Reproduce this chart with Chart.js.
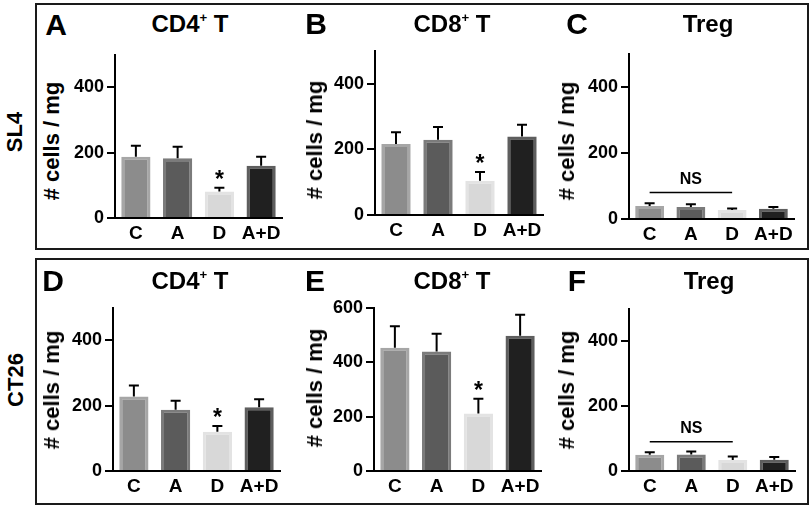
<!DOCTYPE html>
<html>
<head>
<meta charset="utf-8">
<script src="https://cdn.jsdelivr.net/npm/chart.js@4.4.0/dist/chart.umd.min.js"></script>
<style>
  html, body { margin: 0; padding: 0; background: #fff; }
  #fig { position: relative; width: 812px; height: 505px; overflow: hidden;
         font-family: Arial, "Liberation Sans", sans-serif; font-weight: bold; color: #000; }
  .box { position: absolute; border: 2px solid #1a1a1a; box-sizing: border-box; }
  .t { position: absolute; white-space: nowrap; line-height: 1; transform: translate(-50%, -50%); }
  .rot { transform: translate(-50%, -50%) rotate(-90deg); }
  .t sup { font-size: 0.55em; vertical-align: 0.75em; line-height: 0; }
  canvas { position: absolute; }
</style>
</head>
<body>
<div id="fig"></div>
<script>
// ── data ────────────────────────────────────────────────────────────
var categories = ['C', 'A', 'D', 'A+D'];

var sl4Cd4     = [188, 183, 81, 160];
var sl4Cd4Err  = [33, 35, 12, 28];
var sl4Cd8     = [216, 229, 104, 239];
var sl4Cd8Err  = [36, 39, 27, 36];
var sl4Treg    = [39, 36, 27, 31];
var sl4TregErr = [9, 9, 5, 5];

var ct26Cd4     = [228, 188, 120, 195];
var ct26Cd4Err  = [34, 27, 18, 25];
var ct26Cd8     = [453, 439, 211, 497];
var ct26Cd8Err  = [79, 66, 55, 77];
var ct26Treg    = [50, 51, 34, 35];
var ct26TregErr = [8, 9, 11, 8];

var yTicks = [0, 200, 400, 600];

(function () {
  'use strict';
  var FONT = 'Arial, "Liberation Sans", sans-serif';
  var fig = document.getElementById('fig');
  var barFill = ['#8c8c8c', '#5b5b5b', '#d8d8d8', '#202020'];
  var barEdge = ['#a6a6a6', '#7b7b7b', '#e3e3e3', '#5e5e5e'];

  // panel layout: chart area box in page px + text anchors
  var panels = [
    { letter: 'A', title: 'CD4<sup>+</sup> T', v: sl4Cd4, e: sl4Cd4Err, max: 500, star: 2,
      box: [115, 282, 53, 218], L: [56, 25], T: [190, 24], Y: [52, 141] },
    { letter: 'B', title: 'CD8<sup>+</sup> T', v: sl4Cd8, e: sl4Cd8Err, max: 500, star: 2,
      box: [375, 543, 49, 215], L: [316, 24], T: [452, 24], Y: [315, 140] },
    { letter: 'C', title: 'Treg', v: sl4Treg, e: sl4TregErr, max: 500, ns: 80,
      box: [629, 794, 52, 219], L: [577, 24], T: [708, 24], Y: [567, 141] },
    { letter: 'D', title: 'CD4<sup>+</sup> T', v: ct26Cd4, e: ct26Cd4Err, max: 500, star: 2,
      box: [113, 280, 306, 471], L: [53, 281], T: [190, 281], Y: [52, 390] },
    { letter: 'E', title: 'CD8<sup>+</sup> T', v: ct26Cd8, e: ct26Cd8Err, max: 600, star: 2,
      box: [374, 541, 306, 471], L: [315, 281], T: [452, 281], Y: [315, 388] },
    { letter: 'F', title: 'Treg', v: ct26Treg, e: ct26TregErr, max: 500, ns: 90,
      box: [629, 795, 307, 471], L: [577, 281], T: [709, 281], Y: [567, 390] }
  ];

  function el(cls, html, x, y, size) {
    var d = document.createElement('div');
    d.className = cls; d.innerHTML = html;
    d.style.left = x + 'px'; d.style.top = y + 'px'; d.style.fontSize = size + 'px';
    fig.appendChild(d);
    return d;
  }
  function box(l, t, r, b) {
    var d = document.createElement('div');
    d.className = 'box';
    d.style.left = l + 'px'; d.style.top = t + 'px';
    d.style.width = (r - l) + 'px'; d.style.height = (b - t) + 'px';
    fig.appendChild(d);
  }

  // error bars, star, NS bracket
  var marks = {
    id: 'marks',
    afterDatasetsDraw: function (chart, args, o) {
      var ctx = chart.ctx, y = chart.scales.y, bars = chart.getDatasetMeta(0).data;
      ctx.save();
      ctx.strokeStyle = '#000'; ctx.fillStyle = '#000'; ctx.lineWidth = 2;
      bars.forEach(function (b, i) {
        var cap = y.getPixelForValue(o.v[i] + o.e[i]);
        ctx.beginPath();
        ctx.moveTo(b.x, b.y); ctx.lineTo(b.x, cap);
        ctx.moveTo(b.x - 5, cap); ctx.lineTo(b.x + 5, cap);
        ctx.stroke();
        if (o.star === i) {
          ctx.font = 'bold 23px ' + FONT;
          ctx.textAlign = 'center'; ctx.textBaseline = 'alphabetic';
          ctx.fillText('*', b.x, cap - 1);
        }
      });
      if (o.ns != null) {
        var ly = y.getPixelForValue(o.ns), x0 = bars[0].x, x1 = bars[2].x;
        ctx.lineWidth = 1.5;
        ctx.beginPath(); ctx.moveTo(x0, ly); ctx.lineTo(x1, ly); ctx.stroke();
        ctx.font = 'bold 16px ' + FONT;
        ctx.textAlign = 'center'; ctx.textBaseline = 'alphabetic';
        ctx.fillText('NS', (x0 + x1) / 2, ly - 9);
      }
      ctx.restore();
    }
  };

  function makePanel(p) {
    var yW = 50, xH = 30, padT = 12, padR = 14;
    var l = p.box[0], r = p.box[1], t = p.box[2], b = p.box[3];
    var w = yW + (r - l) + padR, h = padT + (b - t) + xH;
    var cv = document.createElement('canvas');
    cv.width = w; cv.height = h;
    cv.style.width = w + 'px'; cv.style.height = h + 'px';
    cv.style.left = (l - yW) + 'px'; cv.style.top = (t - padT) + 'px';
    fig.appendChild(cv);

    new Chart(cv, {
      type: 'bar',
      data: {
        labels: categories,
        datasets: [{ data: p.v, backgroundColor: barFill, borderColor: barEdge, borderWidth: 3,
                     borderSkipped: 'bottom', barPercentage: 0.7, categoryPercentage: 1 }]
      },
      plugins: [marks],
      options: {
        responsive: false, animation: false, devicePixelRatio: 1,
        layout: { padding: { top: padT, right: padR, left: 0, bottom: 0 } },
        plugins: { legend: { display: false }, tooltip: { enabled: false },
                   marks: { v: p.v, e: p.e, star: p.star, ns: p.ns } },
        scales: {
          x: {
            grid: { display: false, drawTicks: false },
            border: { display: true, color: '#000', width: 2 },
            ticks: { color: '#000', padding: 4, autoSkip: false, maxRotation: 0, minRotation: 0,
                     font: { family: FONT, size: 19, weight: 'bold' } },
            afterFit: function (s) { s.height = xH; }
          },
          y: {
            min: 0, max: p.max,
            afterBuildTicks: function (s) {
              s.ticks = yTicks.filter(function (v) { return v <= p.max; }).map(function (v) { return { value: v }; });
            },
            grid: { drawOnChartArea: false, drawTicks: true, tickLength: 8, color: '#000', lineWidth: 2 },
            border: { display: true, color: '#000', width: 2 },
            ticks: { color: '#000', padding: 3, font: { family: FONT, size: 18, weight: 'bold' } },
            afterFit: function (s) { s.width = yW; }
          }
        }
      }
    });
  }

  box(35, 3, 809, 250);
  box(35, 258, 809, 505);
  el('t rot', 'SL4', 15, 132, 22);
  el('t rot', 'CT26', 16, 380, 22);

  panels.forEach(function (p) {
    makePanel(p);
    el('t', p.letter, p.L[0], p.L[1], 30);
    el('t', p.title, p.T[0], p.T[1], 24);
    el('t rot', '# cells / mg', p.Y[0], p.Y[1], 22);
  });
})();
</script>
</body>
</html>
